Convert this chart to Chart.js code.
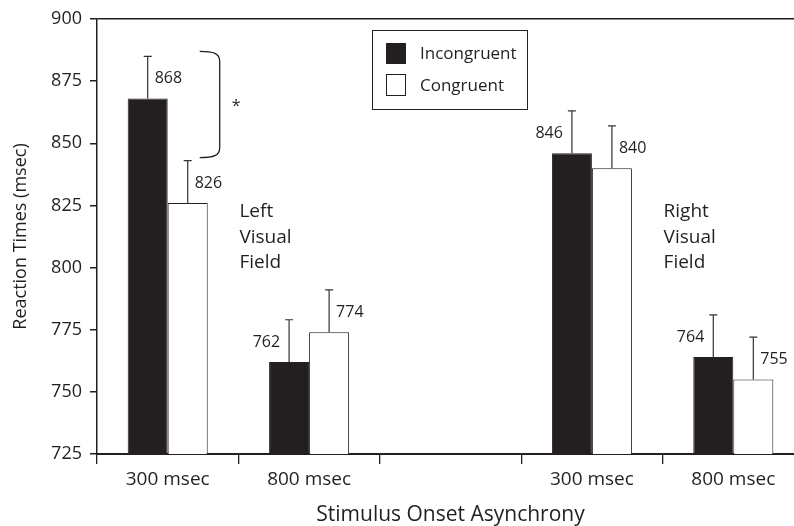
<!DOCTYPE html>
<html>
<head>
<meta charset="utf-8">
<script src="https://cdn.jsdelivr.net/npm/chart.js@4"></script>
<style>
  html, body { margin: 0; padding: 0; overflow: hidden; background: #fff; }
  #wrap { width: 804px; height: 526px; }
</style>
</head>
<body>
<div id="wrap"><canvas id="rtChart" width="804" height="526"></canvas></div>
<script>
const soaLabels = ['300 msec', '800 msec', '', '300 msec', '800 msec'];
const incongruent = [868, 762, null, 846, 764];
const congruent = [826, 774, null, 840, 755];
const incongruentErr = [17, 17, null, 17, 17];
const congruentErr = [17, 17, null, 17, 17];
const yTicks = [725, 750, 775, 800, 825, 850, 875, 900];

const ink = '#231f20';
const font = 'Open Sans';

// which side of the error bar the value label sits on
const labelSide = [
  ['right', 'left', null, 'left', 'left'],
  ['right', 'right', null, 'right', 'right']
];

const errorBars = {
  id: 'errorBars',
  afterDatasetsDraw(chart) {
    const ctx = chart.ctx;
    const y = chart.scales.y;
    const errs = [incongruentErr, congruentErr];
    ctx.save();
    chart.data.datasets.forEach(function(ds, d) {
      const meta = chart.getDatasetMeta(d);
      meta.data.forEach(function(bar, i) {
        if (ds.data[i] == null) return;
        const top = y.getPixelForValue(ds.data[i] + errs[d][i]);
        ctx.strokeStyle = '#333';
        ctx.lineWidth = 1.2;
        ctx.beginPath();
        ctx.moveTo(bar.x, bar.y);
        ctx.lineTo(bar.x, top);
        ctx.moveTo(bar.x - 4, top);
        ctx.lineTo(bar.x + 4, top);
        ctx.stroke();

        // value label
        ctx.fillStyle = ink;
        ctx.font = '16px "' + font + '"';
        ctx.textBaseline = 'middle';
        const side = labelSide[d][i];
        if (side === 'right') {
          ctx.textAlign = 'left';
          ctx.fillText(String(ds.data[i]), bar.x + 7, bar.y - 20);
        } else {
          ctx.textAlign = 'right';
          ctx.fillText(String(ds.data[i]), bar.x - 9, bar.y - 20);
        }
      });
    });
    ctx.restore();
  }
};

const extras = {
  id: 'extras',
  afterDraw(chart) {
    const ctx = chart.ctx;
    const x = chart.scales.x;
    const y = chart.scales.y;
    const area = chart.chartArea;
    const catW = (area.right - area.left) / soaLabels.length;
    ctx.save();

    // legend
    ctx.strokeStyle = ink;
    ctx.lineWidth = 1;
    ctx.strokeRect(372.5, 30.5, 155, 79);
    ctx.fillStyle = ink;
    ctx.fillRect(386, 43, 20, 21);
    ctx.strokeRect(386.5, 74.5, 19, 21);
    ctx.font = '17px "' + font + '"';
    ctx.textAlign = 'left';
    ctx.textBaseline = 'middle';
    ctx.fillText(chart.data.datasets[0].label, 420, 54);
    ctx.fillText(chart.data.datasets[1].label, 420, 86);

    // significance bracket
    const cx = x.getPixelForValue(0);
    const bTop = y.getPixelForValue(incongruent[0] + incongruentErr[0]) - 5;
    const bBot = y.getPixelForValue(congruent[0] + congruentErr[0]) - 3;
    const x0 = cx + 32, x1 = cx + 52;
    ctx.lineWidth = 1.3;
    ctx.beginPath();
    ctx.moveTo(x0, bTop);
    ctx.bezierCurveTo(x0 + 14, bTop, x1, bTop + 2, x1, bTop + 10);
    ctx.lineTo(x1, bBot - 10);
    ctx.bezierCurveTo(x1, bBot - 2, x0 + 14, bBot, x0, bBot);
    ctx.stroke();
    ctx.font = '16px "' + font + '"';
    ctx.fillText('*', x1 + 12, (bTop + bBot) / 2 + 2);

    // visual field labels
    ctx.font = '19px "' + font + '"';
    const leftX = x.getPixelForValue(1) - catW / 2 + 1;
    const rightX = x.getPixelForValue(4) - catW / 2 + 1;
    const rows = [193, 219, 244];
    ['Left', 'Visual', 'Field'].forEach(function(t, k) {
      ctx.fillText(t, leftX, area.top + rows[k]);
    });
    ['Right', 'Visual', 'Field'].forEach(function(t, k) {
      ctx.fillText(t, rightX, area.top + rows[k]);
    });
    ctx.restore();
  }
};

const ctx = document.getElementById('rtChart').getContext('2d');

const rtChart = new Chart(ctx, {
  type: 'bar',
  data: {
    labels: soaLabels,
    datasets: [{
      label: 'Incongruent',
      data: incongruent,
      backgroundColor: ink,
      borderColor: ink,
      borderWidth: 1
    },
    {
      label: 'Congruent',
      data: congruent,
      backgroundColor: '#ffffff',
      borderColor: ink,
      borderWidth: 1
    }]
  },
  options: {
    responsive: false,
    animation: false,
    devicePixelRatio: 1,
    layout: { padding: { top: 19, left: 0, right: 0, bottom: 0 } },
    datasets: {
      bar: { categoryPercentage: 0.566, barPercentage: 1 }
    },
    plugins: {
      legend: { display: false },
      tooltip: { enabled: false }
    },
    scales: {
      x: {
        grid: {
          offset: true,
          drawOnChartArea: false,
          color: ink,
          tickColor: ink,
          tickLength: 10,
          lineWidth: 1.3
        },
        border: { color: ink, width: 2 },
        ticks: {
          color: ink,
          padding: 4,
          maxRotation: 0,
          autoSkip: false,
          font: { family: font, size: 19 }
        },
        title: {
          display: true,
          text: 'Stimulus Onset Asynchrony',
          color: ink,
          font: { family: font, size: 21, lineHeight: 1 },
          padding: { top: 0, bottom: 0 }
        },
        afterFit: function(s) { s.height = 72; }
      },
      y: {
        min: 725,
        max: 900,
        afterBuildTicks: function(s) { s.ticks = yTicks.map(v => ({ value: v })); },
        grid: {
          color: c => (c.tick && c.tick.value === 900) ? ink : 'transparent',
          tickColor: ink,
          tickLength: 7,
          lineWidth: 1.5
        },
        border: { color: ink, width: 1.5 },
        ticks: {
          color: ink,
          padding: 8,
          font: { family: font, size: 18 }
        },
        title: {
          display: true,
          text: 'Reaction Times (msec)',
          color: ink,
          font: { family: font, size: 18 },
          padding: { top: 10, bottom: 0 }
        },
        afterFit: function(s) { s.width = 97; }
      }
    }
  },
  plugins: [errorBars, extras]
});
</script>
</body>
</html>
